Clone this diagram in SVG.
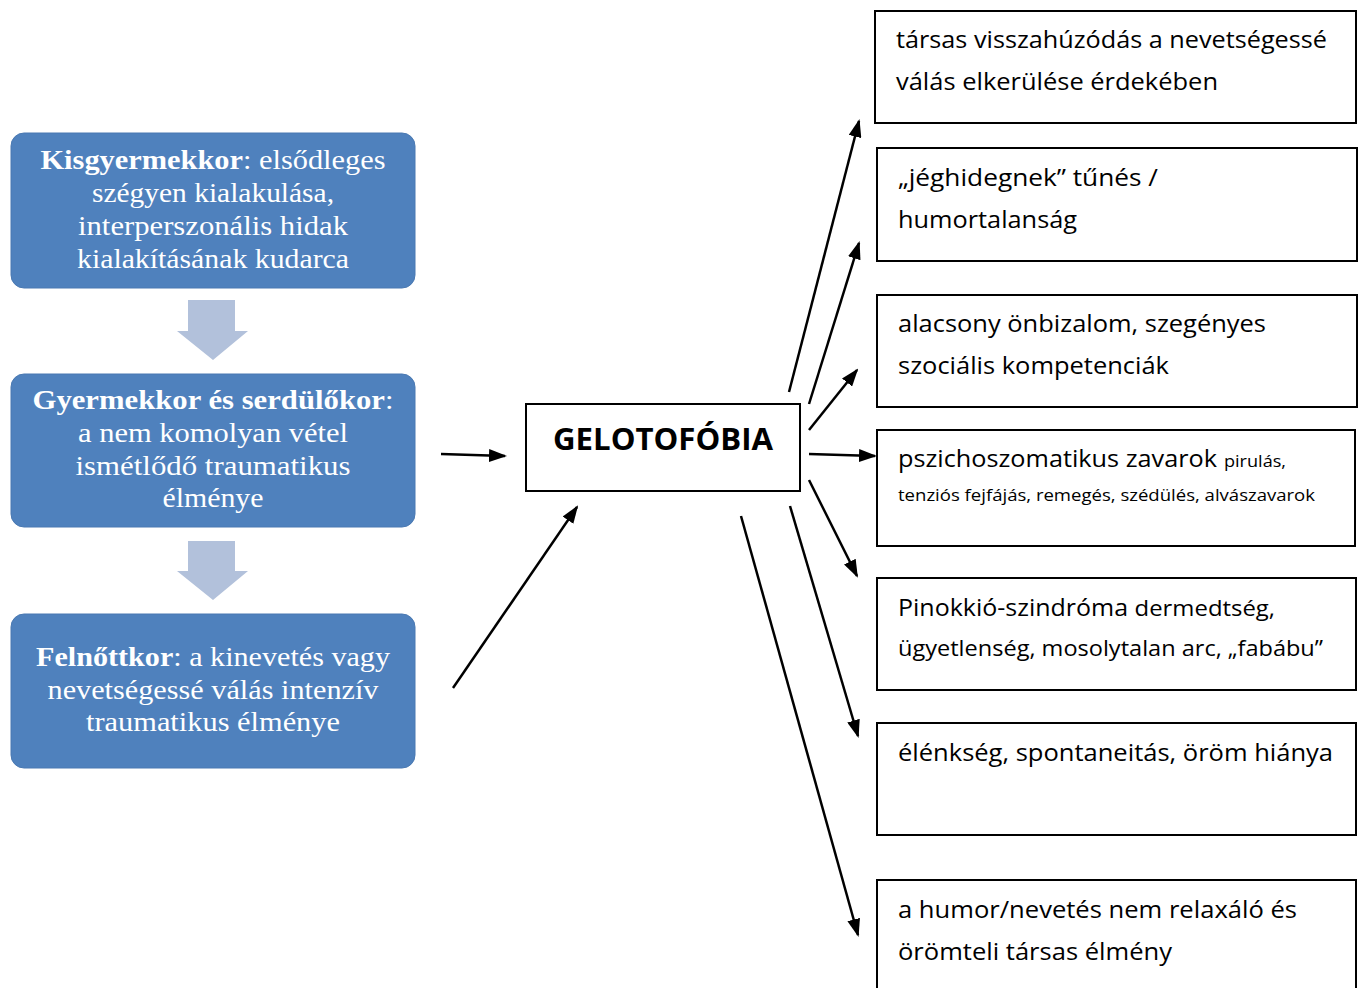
<svg xmlns="http://www.w3.org/2000/svg" width="1364" height="988" viewBox="0 0 1364 988">
<defs>
<marker id="ah" viewBox="0 0 18 13" refX="16" refY="6.5" markerWidth="18" markerHeight="13" markerUnits="userSpaceOnUse" orient="auto">
<path d="M0,0 L18,6.5 L0,13 z" fill="#000"/>
</marker>
</defs>
<style>
.stage{fill:#4F81BD;stroke:#4A79B2;stroke-width:1}
.st{font-family:"Liberation Serif","Times New Roman",serif;font-size:27px;fill:#fff;text-anchor:middle}
.b{font-weight:bold}
.down{fill:#B2C1DB}
.box{fill:#fff;stroke:#000;stroke-width:2}
.rt{font-family:"Open Sans","Liberation Sans",Arial,sans-serif;font-size:23px;fill:#000}
.sm{font-size:16px}
.mid{font-size:22px}
.conn line{stroke:#000;stroke-width:2.5;marker-end:url(#ah)}
.title{font-family:"Open Sans","Liberation Sans",Arial,sans-serif;font-size:31px;font-weight:bold;fill:#000;text-anchor:middle}
</style>
<rect width="1364" height="988" fill="#fff"/>

<g id="stage1">
<rect class="stage" x="11" y="133" width="404" height="155" rx="13"/>
<text class="st" x="213" y="169" textLength="345" lengthAdjust="spacingAndGlyphs"><tspan class="b">Kisgyermekkor</tspan>: elsődleges</text>
<text class="st" x="213" y="202" textLength="242" lengthAdjust="spacingAndGlyphs">szégyen kialakulása,</text>
<text class="st" x="213" y="235" textLength="270" lengthAdjust="spacingAndGlyphs">interperszonális hidak</text>
<text class="st" x="213" y="268" textLength="272" lengthAdjust="spacingAndGlyphs">kialakításának kudarca</text>
</g>
<g id="down1">
<path class="down" d="M188,300 H235 V331 H248 L213,360 L177,331 H188 Z"/>
</g>
<g id="stage2">
<rect class="stage" x="11" y="374" width="404" height="153" rx="13"/>
<text class="st" x="213" y="409" textLength="361" lengthAdjust="spacingAndGlyphs"><tspan class="b">Gyermekkor és serdülőkor</tspan>:</text>
<text class="st" x="213" y="442" textLength="270" lengthAdjust="spacingAndGlyphs">a nem komolyan vétel</text>
<text class="st" x="213" y="475" textLength="275" lengthAdjust="spacingAndGlyphs">ismétlődő traumatikus</text>
<text class="st" x="213" y="507" textLength="101" lengthAdjust="spacingAndGlyphs">élménye</text>
</g>
<g id="down2">
<path class="down" d="M188,541 H235 V571 H248 L213,600 L177,571 H188 Z"/>
</g>
<g id="stage3">
<rect class="stage" x="11" y="614" width="404" height="154" rx="13"/>
<text class="st" x="213" y="666" textLength="354" lengthAdjust="spacingAndGlyphs"><tspan class="b">Felnőttkor</tspan>: a kinevetés vagy</text>
<text class="st" x="213" y="699" textLength="331" lengthAdjust="spacingAndGlyphs">nevetségessé válás intenzív</text>
<text class="st" x="213" y="731" textLength="254" lengthAdjust="spacingAndGlyphs">traumatikus élménye</text>
</g>

<g id="gelotofobia">
<rect class="box" x="526" y="404" width="274" height="87"/>
<text class="title" x="663" y="450" textLength="220" lengthAdjust="spacingAndGlyphs">GELOTOFÓBIA</text>
</g>

<g id="r1">
<rect class="box" x="875" y="11" width="481" height="112"/>
<text class="rt" x="896" y="48" textLength="431" lengthAdjust="spacingAndGlyphs">társas visszahúzódás a nevetségessé</text>
<text class="rt" x="896" y="90" textLength="322" lengthAdjust="spacingAndGlyphs">válás elkerülése érdekében</text>
</g>
<g id="r2">
<rect class="box" x="877" y="148" width="480" height="113"/>
<text class="rt" x="898" y="186" textLength="260" lengthAdjust="spacingAndGlyphs">„jéghidegnek” tűnés /</text>
<text class="rt" x="898" y="228" textLength="179" lengthAdjust="spacingAndGlyphs">humortalanság</text>
</g>
<g id="r3">
<rect class="box" x="877" y="295" width="480" height="112"/>
<text class="rt" x="898" y="332" textLength="368" lengthAdjust="spacingAndGlyphs">alacsony önbizalom, szegényes</text>
<text class="rt" x="898" y="374" textLength="271" lengthAdjust="spacingAndGlyphs">szociális kompetenciák</text>
</g>
<g id="r4">
<rect class="box" x="877" y="430" width="478" height="116"/>
<text class="rt" x="898" y="467" textLength="319" lengthAdjust="spacingAndGlyphs">pszichoszomatikus zavarok</text>
<text class="rt sm" x="1224" y="467" textLength="62" lengthAdjust="spacingAndGlyphs">pirulás,</text>
<text class="rt sm" x="898" y="501" textLength="417" lengthAdjust="spacingAndGlyphs">tenziós fejfájás, remegés, szédülés, alvászavarok</text>
</g>
<g id="r5">
<rect class="box" x="877" y="578" width="479" height="112"/>
<text class="rt" x="898" y="616" textLength="377" lengthAdjust="spacingAndGlyphs">Pinokkió-szindróma <tspan class="mid">dermedtség,</tspan></text>
<text class="rt mid" x="898" y="656" textLength="425" lengthAdjust="spacingAndGlyphs">ügyetlenség, mosolytalan arc, „fabábu”</text>
</g>
<g id="r6">
<rect class="box" x="877" y="723" width="479" height="112"/>
<text class="rt" x="898" y="761" textLength="435" lengthAdjust="spacingAndGlyphs">élénkség, spontaneitás, öröm hiánya</text>
</g>
<g id="r7">
<rect class="box" x="877" y="880" width="479" height="120"/>
<text class="rt" x="898" y="918" textLength="399" lengthAdjust="spacingAndGlyphs">a humor/nevetés nem relaxáló és</text>
<text class="rt" x="898" y="960" textLength="274" lengthAdjust="spacingAndGlyphs">örömteli társas élmény</text>
</g>

<g id="connectors" class="conn">
<line x1="441" y1="454" x2="505" y2="456"/>
<line x1="453" y1="688" x2="577" y2="507"/>
<line x1="789" y1="392" x2="859" y2="121"/>
<line x1="809" y1="404" x2="859" y2="243"/>
<line x1="809" y1="430" x2="857" y2="370"/>
<line x1="809" y1="454" x2="875" y2="456"/>
<line x1="809" y1="480" x2="857" y2="576"/>
<line x1="790" y1="506" x2="858" y2="736"/>
<line x1="741" y1="516" x2="858" y2="935"/>
</g>
</svg>
